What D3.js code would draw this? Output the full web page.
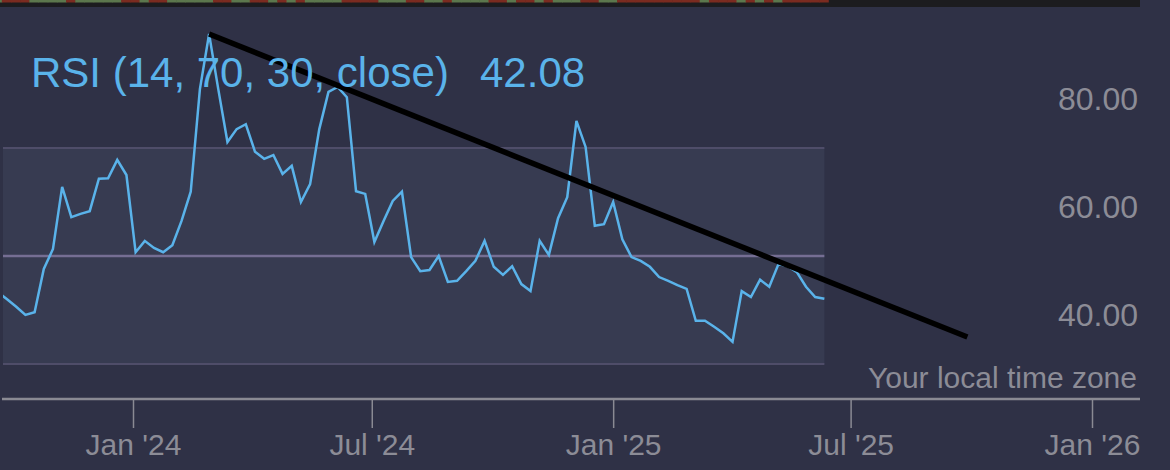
<!DOCTYPE html>
<html>
<head>
<meta charset="utf-8">
<script src="https://cdn.jsdelivr.net/npm/d3@7"></script>
<style>
  html, body { margin: 0; padding: 0; background: #2f3146; overflow: hidden; }
  svg { display: block; }
  text { font-family: "Liberation Sans", Arial, Helvetica, sans-serif; }
</style>
</head>
<body>
<svg id="chart" width="1170" height="470"></svg>
<script>
// ---- data ----
const startDate = "2023-09-20"; // first weekly RSI point
const rsiValues = [
  43.3, 42.0, 40.6, 39.1, 39.6, 47.6, 51.3, 62.8, 57.2, 57.8,
  58.3, 64.3, 64.4, 67.8, 65.0, 50.7, 52.8, 51.5, 50.7, 52.0,
  56.5, 61.9, 80.9, 91.1, 80.9, 71.1, 73.5, 74.4, 69.3, 68.0,
  68.7, 65.2, 66.7, 60.0, 63.3, 73.5, 80.4, 81.3, 79.4, 62.0,
  61.5, 52.6, 56.5, 60.2, 61.9, 49.8, 47.2, 47.4, 50.0, 45.2,
  45.4, 47.2, 49.1, 52.8, 48.0, 46.5, 48.1, 44.8, 43.5, 52.8,
  50.2, 57.0, 60.9, 75.0, 70.2, 55.6, 55.9, 60.0, 53.1, 49.8,
  49.1, 48.0, 46.1, 45.4, 44.6, 43.9, 38.0, 38.0, 36.9, 35.7,
  34.1, 43.5, 42.4, 45.6, 44.3, 48.5, 48.1, 47.0, 44.3, 42.4,
  42.08
];
const bandLevels = [70, 50, 30];
const yTickValues = [80, 60, 40];
const yTickLabels = ["80.00", "60.00", "40.00"];
const xTickDates = ["2024-01-01", "2024-07-01", "2025-01-01", "2025-07-01", "2026-01-01"];
const xTickLabels = ["Jan '24", "Jul '24", "Jan '25", "Jul '25", "Jan '26"];
const trendDates = ["2024-02-28", "2025-09-28"];
const trendValues = [91.1, 35.0];
const titleText = "RSI (14, 70, 30, close)";
const lastValueText = "42.08";
const timezoneText = "Your local time zone";

// ---- setup ----
const parse = d3.utcParse("%Y-%m-%d");
const t0 = parse(startDate);
const rsi = rsiValues.map((v, i) => ({ date: d3.utcDay.offset(t0, 7 * i), value: v }));

const svg = d3.select("#chart");
const W = 1170, H = 470;

const x = d3.scaleUtc()
  .domain([parse(xTickDates[0]), parse(xTickDates[xTickDates.length - 1])])
  .range([133, 1092]);
const y = d3.scaleLinear().domain([30, 70]).range([364, 148]);

svg.append("rect").attr("width", W).attr("height", H).attr("fill", "#2f3146");

// top strip (bottom edge of previous pane)
svg.append("rect").attr("x", 0).attr("y", 0).attr("width", 1140).attr("height", 7).attr("fill", "#1c1c1f");
svg.append("g").selectAll("rect")
  .data(rsi)
  .join("rect")
  .attr("x", d => x(d3.utcDay.offset(d.date, -3.5)))
  .attr("y", 0)
  .attr("width", x(parse("2024-01-08")) - x(parse("2024-01-01")) + 0.5)
  .attr("height", 2.5)
  .attr("fill", (d, i) => (i === 0 || d.value >= rsi[i - 1].value) ? "#5c774d" : "#7b2b20");

// band
const xLeft = 3, xRight = x(rsi[rsi.length - 1].date);
svg.append("rect")
  .attr("x", xLeft).attr("y", y(70))
  .attr("width", xRight - xLeft).attr("height", y(30) - y(70))
  .attr("fill", "#373b51");
svg.append("g").selectAll("line")
  .data(bandLevels)
  .join("line")
  .attr("x1", xLeft).attr("x2", xRight)
  .attr("y1", d => y(d)).attr("y2", d => y(d))
  .attr("stroke", d => d === 50 ? "#756e93" : "#4f4d69")
  .attr("stroke-width", d => d === 50 ? 2.5 : 2);

// RSI line
svg.append("clipPath").attr("id", "clip")
  .append("rect").attr("x", xLeft).attr("y", 0).attr("width", W).attr("height", H);
const line = d3.line().x(d => x(d.date)).y(d => y(d.value));
svg.append("path")
  .datum(rsi)
  .attr("clip-path", "url(#clip)")
  .attr("fill", "none")
  .attr("stroke", "#5ab3ea")
  .attr("stroke-width", 2.5)
  .attr("stroke-linejoin", "miter")
  .attr("d", line);

// trend line
svg.append("line")
  .attr("x1", x(parse(trendDates[0]))).attr("y1", y(trendValues[0]))
  .attr("x2", x(parse(trendDates[1]))).attr("y2", y(trendValues[1]))
  .attr("stroke", "#000000").attr("stroke-width", 5.5);

// title
svg.append("text").attr("x", 31).attr("y", 87)
  .attr("font-size", 42).attr("fill", "#5ab3ea").text(titleText);
svg.append("text").attr("x", 480).attr("y", 87)
  .attr("font-size", 42).attr("fill", "#5ab3ea").text(lastValueText);

// y labels (right)
svg.append("g").selectAll("text")
  .data(yTickValues)
  .join("text")
  .attr("x", 1138).attr("y", d => y(d) + 16)
  .attr("text-anchor", "end")
  .attr("font-size", 32)
  .attr("fill", "#8c8c96")
  .text((d, i) => yTickLabels[i]);

// time zone label
svg.append("text").attr("x", 1137).attr("y", 388)
  .attr("text-anchor", "end").attr("font-size", 30)
  .attr("fill", "#8c8c96").text(timezoneText);

// x axis
const xAxis = d3.axisBottom(x)
  .tickValues(xTickDates.map(parse))
  .tickFormat((d, i) => xTickLabels[i])
  .tickSize(29)
  .tickPadding(6);
const gx = svg.append("g").attr("transform", "translate(0,399)").call(xAxis);
gx.select(".domain").remove();
gx.selectAll(".tick line").attr("stroke", "#8a8a93").attr("stroke-width", 1.5);
gx.selectAll(".tick text")
  .attr("fill", "#8c8c96")
  .attr("font-size", 30)
  .attr("font-family", "Liberation Sans, Arial, sans-serif")
  .attr("dy", 0)
  .attr("y", 56);
svg.append("line").attr("x1", 2).attr("x2", 1140).attr("y1", 399).attr("y2", 399)
  .attr("stroke", "#8a8a93").attr("stroke-width", 2.5);
</script>
</body>
</html>
